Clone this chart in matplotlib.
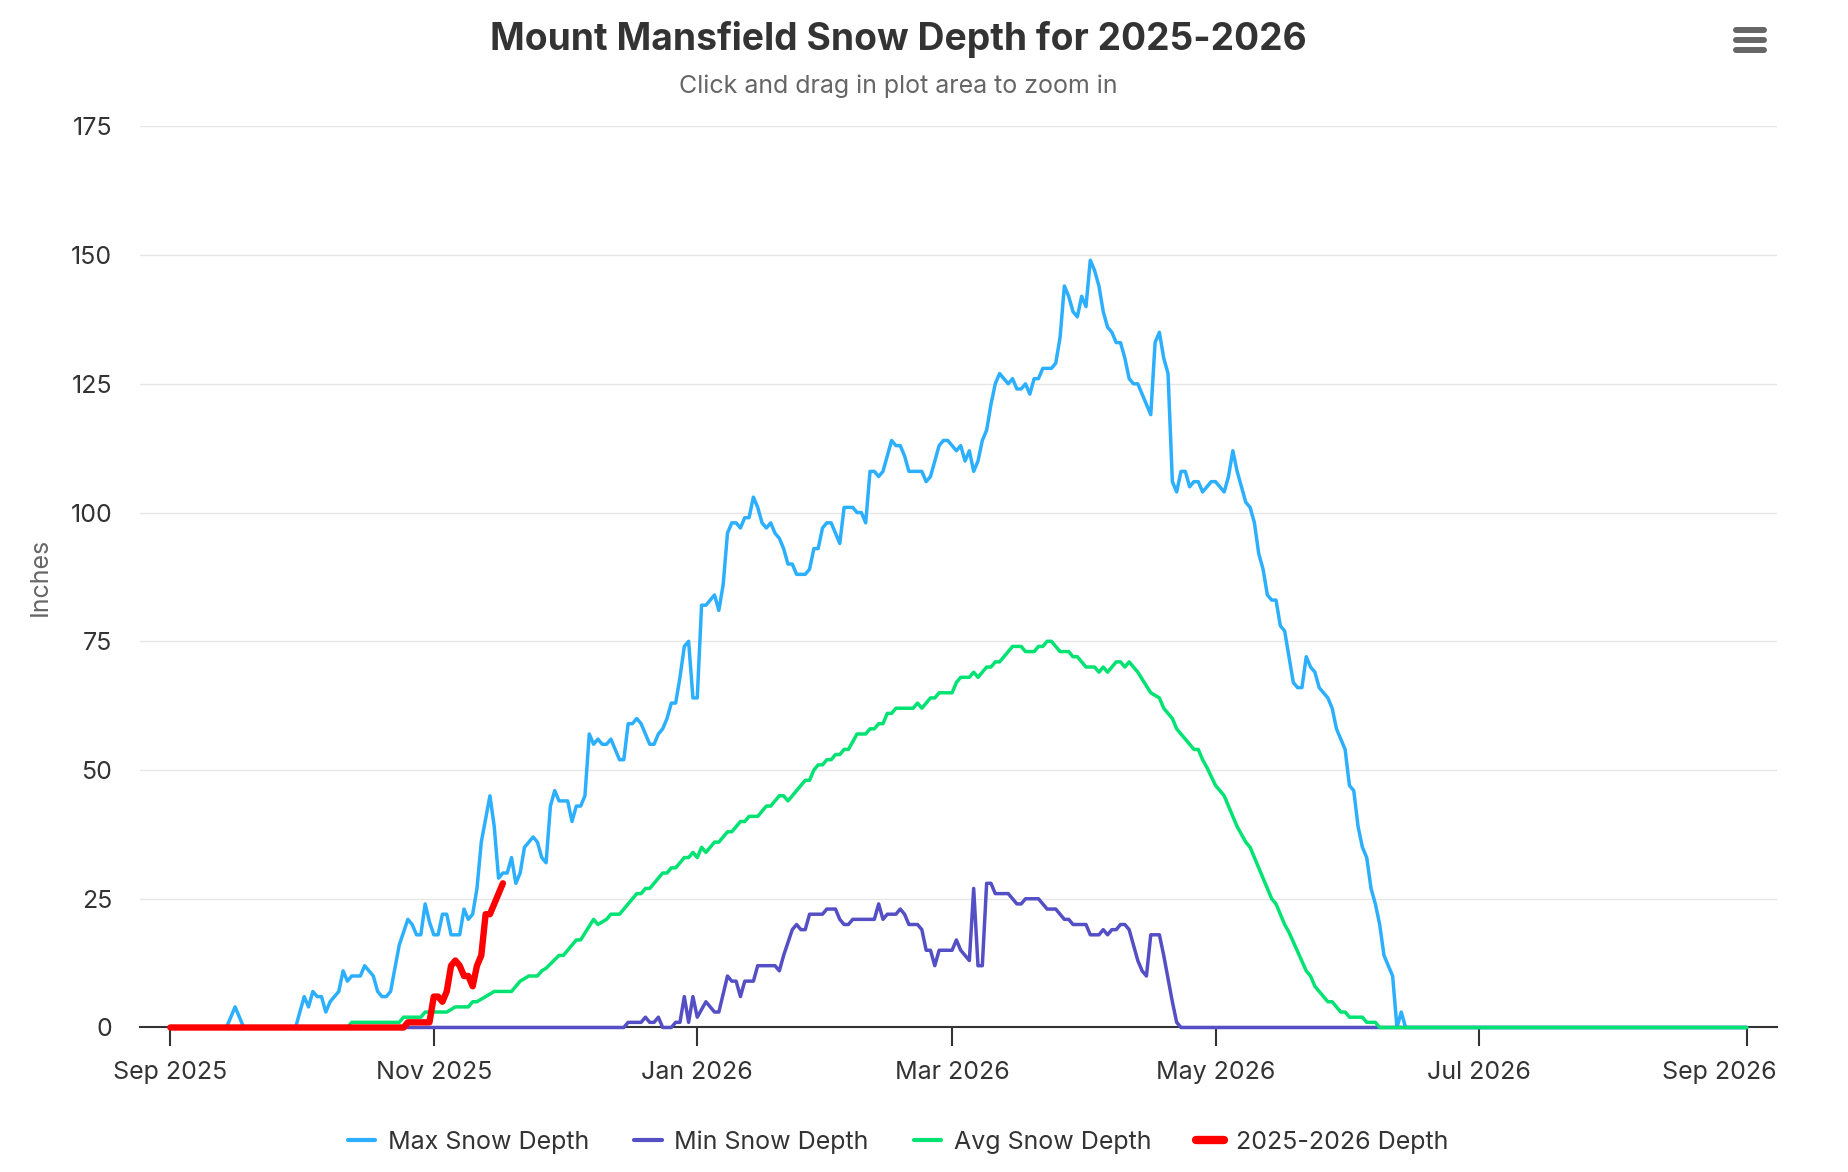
import numpy as np
import matplotlib
matplotlib.use("Agg")
import matplotlib.pyplot as plt
import matplotlib.dates as mdates
import matplotlib.ticker as mticker
from matplotlib.lines import Line2D

plt.rcParams['font.family'] = ['Inter', 'DejaVu Sans']

# ---------------- data (days since 2025-09-01, inches) ----------------
season_start = np.datetime64('2025-09-01')

max_days = [0, 13, 15, 17, 29, 31, 32, 33, 34, 35, 36, 37, 39, 40, 41, 42, 44, 45, 47, 48, 49, 50, 51, 53,
            55, 56, 57, 58, 59, 60, 61, 62, 63, 64, 65, 67, 68, 69, 70, 71, 72, 74, 75, 76, 77, 78, 79, 80,
            81, 82, 84, 85, 86, 87, 88, 89, 90, 92, 93, 94, 95, 96, 97, 98, 99, 100, 101, 102, 103, 104, 105,
            106, 107, 108, 109, 110, 111, 112, 113, 114, 115, 116, 117, 118, 119, 120, 121, 122, 123, 124,
            125, 126, 127, 128, 129, 130, 131, 132, 133, 134, 135, 136, 137, 138, 139, 140, 141, 142, 143,
            144, 145, 147, 148, 149, 150, 151, 152, 153, 154, 155, 156, 158, 159, 160, 161, 162, 163, 164,
            165, 167, 168, 169, 170, 171, 174, 175, 176, 178, 179, 180, 181, 182, 183, 184, 185, 186, 187,
            188, 189, 190, 191, 192, 193, 194, 195, 196, 197, 198, 199, 200, 201, 202, 204, 205, 206, 207,
            208, 209, 210, 211, 212, 213, 214, 215, 216, 217, 218, 219, 220, 221, 222, 223, 224, 227, 228,
            229, 230, 231, 232, 233, 234, 235, 236, 237, 238, 239, 240, 241, 242, 243, 244, 245, 246, 247,
            248, 249, 250, 251, 252, 253, 254, 255, 256, 257, 258, 259, 260, 261, 262, 263, 264, 265, 266,
            267, 268, 269, 270, 271, 272, 273, 274, 275, 276, 277, 278, 279, 280, 281, 282, 283, 284, 285,
            286, 365]
max_vals = [0, 0, 4, 0, 0, 6, 4, 7, 6, 6, 3, 5, 7, 11, 9, 10, 10, 12, 10, 7, 6, 6, 7, 16,
            21, 20, 18, 18, 24, 20.5, 18, 18, 22, 22, 18, 18, 23, 21, 22, 27, 36, 45, 39, 29, 30, 30, 33, 28,
            30, 35, 37, 36, 33, 32, 43, 46, 44, 44, 40, 43, 43, 45, 57, 55, 56, 55, 55, 56, 54, 52, 52,
            59, 59, 60, 59, 57, 55, 55, 57, 58, 60, 63, 63, 68, 74, 75, 64, 64, 82, 82,
            83, 84, 81, 86, 96, 98, 98, 97, 99, 99, 103, 101, 98, 97, 98, 96, 95, 93, 90,
            90, 88, 88, 89, 93, 93, 97, 98, 98, 96, 94, 101, 101, 100, 100, 98, 108, 108, 107,
            108, 114, 113, 113, 111, 108, 108, 106, 107, 113, 114, 114, 113, 112, 113, 110, 112, 108, 110,
            114, 116, 121, 125, 127, 126, 125, 126, 124, 124, 125, 123, 126, 126, 128, 128, 129, 134, 144,
            142, 139, 138, 142, 140, 149, 147, 144, 139, 136, 135, 133, 133, 130, 126, 125, 125, 119, 133,
            135, 130, 127, 106, 104, 108, 108, 105, 106, 106, 104, 105, 106, 106, 105, 104, 107, 112, 108,
            105, 102, 101, 98, 92, 89, 84, 83, 83, 78, 77, 72, 67, 66, 66, 72, 70, 69, 66,
            65, 64, 62, 58, 56, 54, 47, 46, 39, 35, 33, 27, 24, 20, 14, 12, 10, 0, 3,
            0, 0]

min_days = [0, 105, 106, 109, 110, 111, 112, 113, 114, 116, 117, 118, 119, 120, 121, 122, 124, 126, 127,
            129, 130, 131, 132, 133, 135, 136, 140, 141, 142, 144, 145, 146, 147, 148, 151, 152, 154, 155,
            156, 157, 158, 163, 164, 165, 166, 168, 169, 170, 171, 173, 174, 175, 176, 177, 178, 181, 182,
            183, 185, 186, 187, 188, 189, 190, 191, 194, 196, 197, 198, 201, 203, 205, 207, 208, 209, 212,
            213, 215, 216, 217, 218, 219, 220, 221, 222, 224, 225, 226, 227, 229, 230, 232, 233, 234, 365]
min_vals = [0, 0, 1, 1, 2, 1, 1, 2, 0, 0, 1, 1, 6, 1, 6, 2, 5, 3, 3,
            10, 9, 9, 6, 9, 9, 12, 12, 11, 14, 19, 20, 19, 19, 22, 22, 23, 23, 21,
            20, 20, 21, 21, 24, 21, 22, 22, 23, 22, 20, 20, 19, 15, 15, 12, 15, 15, 17,
            15, 13, 27, 12, 12, 28, 28, 26, 26, 24, 24, 25, 25, 23, 23, 21, 21, 20, 20,
            18, 18, 19, 18, 19, 19, 20, 20, 19, 13, 11, 10, 18, 18, 14, 5, 1, 0, 0]

avg_days = [0, 41, 42, 53, 54, 58, 59, 64, 66, 69, 70, 71, 73, 75, 79, 81, 83, 85, 86, 87, 90, 91, 94, 95,
            98, 99, 101, 102, 104, 108, 109, 110, 111, 114, 115, 116, 117, 119, 120, 121, 122, 123, 124,
            126, 127, 129, 130, 132, 133, 134, 136, 138, 139, 141, 142, 143, 147, 148, 149, 150, 151, 152,
            153, 154, 155, 156, 157, 159, 161, 162, 163, 164, 165, 166, 167, 168, 172, 173, 174, 176, 177,
            178, 181, 182, 183, 185, 186, 187, 189, 190, 191, 192, 195, 197, 198, 200, 201, 202, 203, 204,
            206, 208, 209, 210, 212, 214, 215, 216, 217, 219, 220, 221, 222, 224, 227, 229, 230, 232, 233,
            237, 238, 239, 240, 242, 244, 247, 248, 249, 250, 255, 256, 258, 259, 263, 264, 265, 268, 269,
            271, 272, 273, 276, 277, 279, 280, 365]
avg_vals = [0, 0, 1, 1, 2, 2, 3, 3, 4, 4, 5, 5, 6, 7, 7, 9, 10, 10, 11, 11.5, 14, 14, 17, 17,
            21, 20, 21, 22, 22, 26, 26, 27, 27, 30, 30, 31, 31, 33, 33, 34, 33, 35, 34,
            36, 36, 38, 38, 40, 40, 41, 41, 43, 43, 45, 45, 44, 48, 48, 50, 51, 51, 52,
            52, 53, 53, 54, 54, 57, 57, 58, 58, 59, 59, 61, 61, 62, 62, 63, 62, 64, 64,
            65, 65, 67, 68, 68, 69, 68, 70, 70, 71, 71, 74, 74, 73, 73, 74, 74, 75, 75,
            73, 73, 72, 72, 70, 70, 69, 70, 69, 71, 71, 70, 71, 69, 65, 64, 62, 60, 58,
            54, 54, 52, 50.5, 47, 45, 39, 37.5, 36, 35, 25, 24, 20, 18.5, 11, 10, 8, 5, 5,
            3, 3, 2, 2, 1, 1, 0, 0]

cur_days = [0, 54, 55, 60, 61, 62, 63, 64, 65, 66, 67, 68, 69, 70, 71, 72, 73, 74, 75, 76, 77]
cur_vals = [0, 0, 1, 1, 6, 6, 5, 7, 12, 13, 12, 10, 10, 8, 12, 14, 22, 22, 24, 26, 28]

series_names = ['Max Snow Depth', 'Min Snow Depth', 'Avg Snow Depth', '2025-2026 Depth']
series_colors = ['#2caffe', '#544fc5', '#00e272', '#ff0000']
y_ticks = [0, 25, 50, 75, 100, 125, 150, 175]
x_tick_dates = ['2025-09-01', '2025-11-01', '2026-01-01', '2026-03-01', '2026-05-01', '2026-07-01',
                '2026-09-01']
x_tick_labels = ['Sep 2025', 'Nov 2025', 'Jan 2026', 'Mar 2026', 'May 2026', 'Jul 2026', 'Sep 2026']
title_text = 'Mount Mansfield Snow Depth for 2025-2026'
subtitle_text = 'Click and drag in plot area to zoom in'
y_label = 'Inches'


def to_dates(days):
    return season_start + np.array(days).astype('timedelta64[D]')


# ---------------- figure ----------------
fig = plt.figure(figsize=(18.48, 11.72), dpi=100)
ax = fig.add_axes([0.0758, 0.1233, 0.9616 - 0.0758, 0.8922 - 0.1233])

widths = [2.5, 2.5, 2.5, 4.6]
data = [(max_days, max_vals), (min_days, min_vals), (avg_days, avg_vals), (cur_days, cur_vals)]
for i, ((d, v), name, c, w) in enumerate(zip(data, series_names, series_colors, widths)):
    ax.plot(to_dates(d), v, color=c, lw=w, label=name, solid_joinstyle='round',
            solid_capstyle='round', clip_on=False, zorder=3 + i)

ax.set_ylim(0, 175)
ax.set_yticks(y_ticks)
ax.set_xlim(season_start - np.timedelta64(7, 'D'), season_start + np.timedelta64(372, 'D'))
ax.set_xticks(np.array(x_tick_dates, dtype='datetime64[D]'))
# last label is shifted inside the plot edge (as the original chart does)
ax.set_xticklabels(x_tick_labels[:-1] + [''])

tick_len = 13.5
tick_pad = 10.5
ax.annotate(x_tick_labels[-1], xy=(1.0, 0.0), xycoords='axes fraction',
            xytext=(0, -(tick_len + tick_pad)), textcoords='offset points',
            ha='right', va='top', fontsize=18, color='#333333')

ax.grid(axis='y', color='#e6e6e6', lw=1.0)
ax.set_axisbelow(True)
for s in ['top', 'right', 'left']:
    ax.spines[s].set_visible(False)
ax.spines['bottom'].set_color('#333333')
ax.spines['bottom'].set_linewidth(1.5)
ax.spines['bottom'].set_zorder(2)

ax.tick_params(axis='x', colors='#333333', length=tick_len, width=1.5, pad=tick_pad, labelsize=18,
               labelcolor='#333333')
ax.tick_params(axis='y', length=0, pad=20, labelsize=18, labelcolor='#333333')

ax.set_ylabel(y_label, fontsize=18, color='#666666')
ax.yaxis.set_label_coords(-0.054, 0.5)

fig.text(0.486, 0.966, title_text, ha='center', va='center', fontsize=26.8, fontweight='bold',
         color='#333333')
fig.text(0.486, 0.9266, subtitle_text, ha='center', va='center', fontsize=18, color='#666666')

# menu icon
for yy in [0.9744, 0.9659, 0.9573]:
    fig.add_artist(Line2D([0.9394, 0.9545], [yy, yy], transform=fig.transFigure,
                          color='#666666', lw=4.3, solid_capstyle='round'))

handles = [Line2D([], [], color=c, lw=(3 if i < 3 else 6), solid_capstyle='round')
           for i, c in enumerate(series_colors)]
fig.legend(handles, series_names, loc='center', bbox_to_anchor=(0.486, 0.0256), ncol=4,
           frameon=False, fontsize=18, handlelength=1.1, handletextpad=0.5, columnspacing=1.8,
           labelcolor='#333333')

fig.savefig('out.png', dpi=100, facecolor='white')
